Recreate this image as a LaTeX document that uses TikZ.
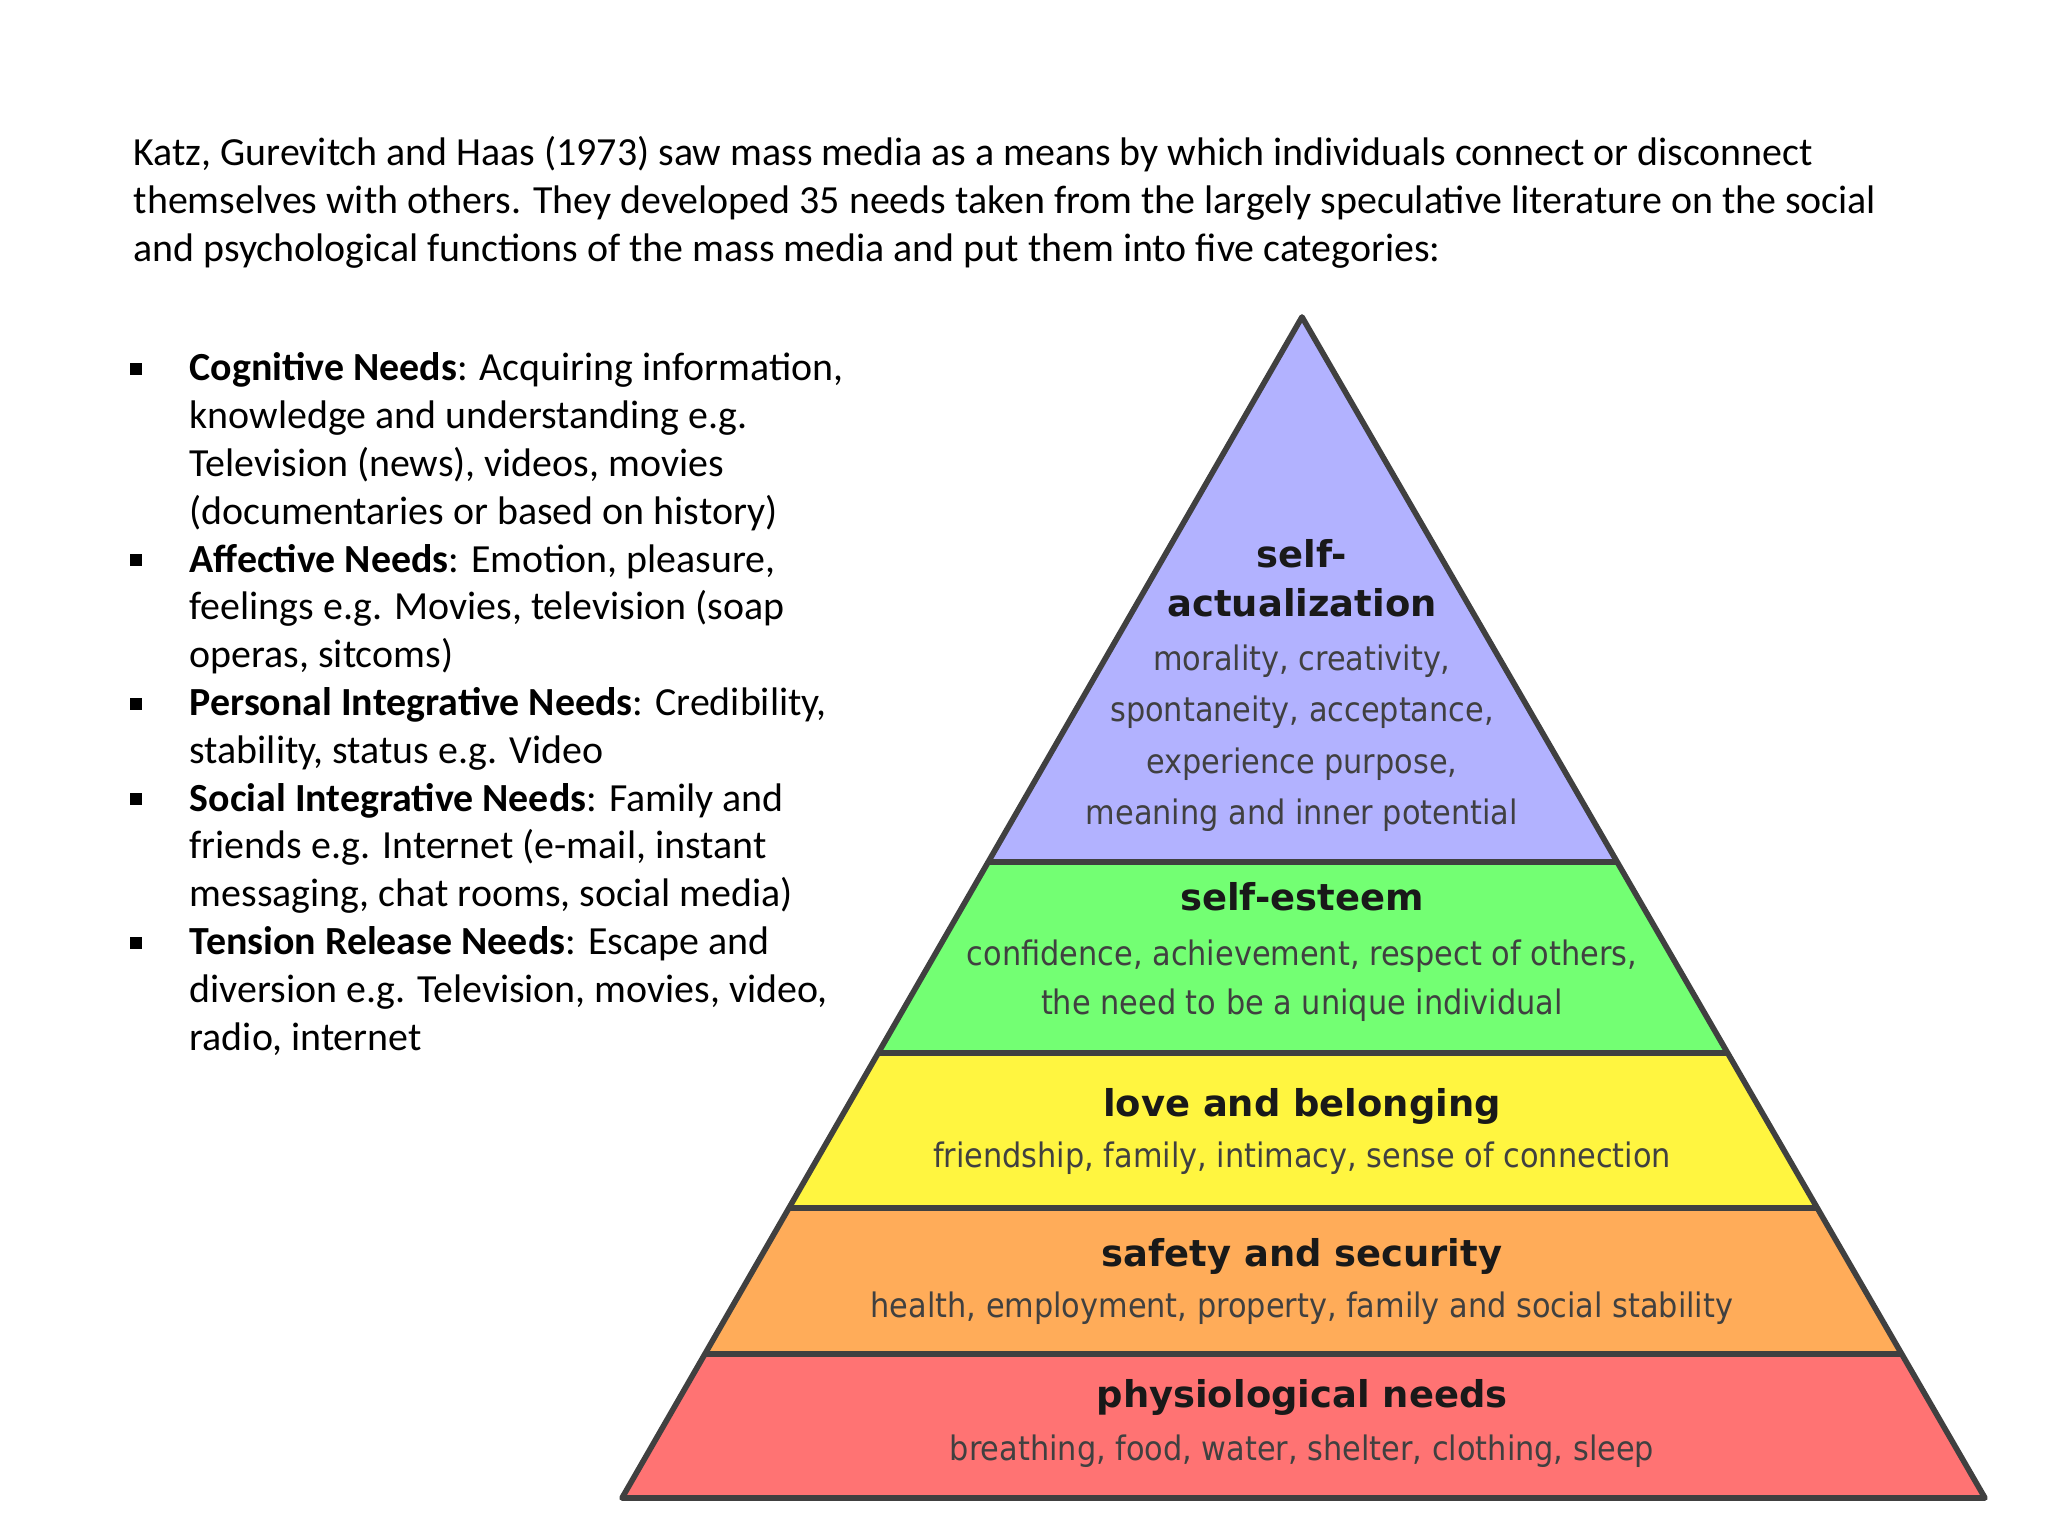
\documentclass[tikz,border=0pt]{standalone}
\usepackage{fontspec}
\setmainfont{Carlito}
\newfontfamily\pyrb{DejaVu Sans}[Scale=1]
\newfontfamily\pyrd{DejaVu Sans Condensed}
\begin{document}
\begin{tikzpicture}[
  body/.style={anchor=base west,inner sep=0pt,font=\fontsize{11.35}{14}\selectfont},
  lab/.style={anchor=base,inner sep=0pt,font=\pyrb\bfseries\fontsize{10.5}{12}\selectfont,text=black!90},
  desc/.style={anchor=base,inner sep=0pt,font=\pyrd\fontsize{9.6}{11}\selectfont,text=black!75},
  band/.style={draw=black!75,line width=1.6pt,line join=round},
  bul/.style={fill=black,minimum size=0.12cm,inner sep=0pt}]
\useasboundingbox (0,0) rectangle (20.48,-15.36);
\fill[white] (0,0) rectangle (20.48,-15.36);
% paragraph
\node[body] (p1) at (1.33,-1.66) {Katz, Gurevitch and Haas (1973) saw mass media as a means by which individuals connect or disconnect};
\node[body] (p2) at (1.33,-2.14) {themselves with others. They developed 35 needs taken from the largely speculative literature on the social};
\node[body] (p3) at (1.33,-2.62) {and psychological functions of the mass media and put them into five categories:};
% bullets
\foreach \t [count=\i] in {
 {\textbf{Cognitive Needs}: Acquiring information,},
 {knowledge and understanding e.g.},
 {Television (news), videos, movies},
 {(documentaries or based on history)},
 {\textbf{Affective Needs}: Emotion, pleasure,},
 {feelings e.g. Movies, television (soap},
 {operas, sitcoms)},
 {\textbf{Personal Integrative Needs}: Credibility,},
 {stability, status e.g. Video},
 {\textbf{Social Integrative Needs}: Family and},
 {friends e.g. Internet (e-mail, instant},
 {messaging, chat rooms, social media)},
 {\textbf{Tension Release Needs}: Escape and},
 {diversion e.g. Television, movies, video,},
 {radio, internet}}
 {\node[body] (l\i) at (1.89,{-3.81-(\i-1)*0.478}) {\t};}
\foreach \i in {1,5,8,10,13}{\node[bul] (b\i) at (1.36,{-3.81-(\i-1)*0.478+0.12}) {};}
% pyramid
\coordinate (A) at (13.02,-3.17);
\coordinate (L) at (6.22,-14.98);
\coordinate (R) at (19.85,-14.98);
\def\lx#1{13.02-6.80*(#1-3.17)/11.81}
\def\rx#1{13.02+6.83*(#1-3.17)/11.81}
\fill[red!55!white] ({\lx{13.54}},-13.54) -- ({\rx{13.54}},-13.54) -- (R) -- (L) -- cycle;
\fill[orange!65!white] ({\lx{12.08}},-12.08) -- ({\rx{12.08}},-12.08) -- ({\rx{13.54}},-13.54) -- ({\lx{13.54}},-13.54) -- cycle;
\fill[yellow!75!white] ({\lx{10.53}},-10.53) -- ({\rx{10.53}},-10.53) -- ({\rx{12.08}},-12.08) -- ({\lx{12.08}},-12.08) -- cycle;
\fill[green!55!white] ({\lx{8.62}},-8.62) -- ({\rx{8.62}},-8.62) -- ({\rx{10.53}},-10.53) -- ({\lx{10.53}},-10.53) -- cycle;
\fill[blue!30!white] (A) -- ({\rx{8.62}},-8.62) -- ({\lx{8.62}},-8.62) -- cycle;
\foreach \y in {8.62,10.53,12.08,13.54}{\draw[band] ({\lx{\y}},-\y) -- ({\rx{\y}},-\y);}
\draw[band] (A) -- (R) -- (L) -- cycle;
% labels
\node[lab] (s1) at (13.02,-5.68) {self-};
\node[lab] (s2) at (13.02,-6.17) {actualization};
\node[desc] (s3) at (13.02,-6.71) {morality, creativity,};
\node[desc] (s4) at (13.02,-7.22) {spontaneity, acceptance,};
\node[desc] (s5) at (13.02,-7.73) {experience purpose,};
\node[desc] (s6) at (13.02,-8.24) {meaning and inner potential};
\node[lab] (e1) at (13.02,-9.11) {self-esteem};
\node[desc] (e2) at (13.02,-9.65) {confidence, achievement, respect of others,};
\node[desc] (e3) at (13.02,-10.14) {the need to be a unique individual};
\node[lab] (o1) at (13.02,-11.16) {love and belonging};
\node[desc] (o2) at (13.02,-11.67) {friendship, family, intimacy, sense of connection};
\node[lab] (f1) at (13.02,-12.66) {safety and security};
\node[desc] (f2) at (13.02,-13.17) {health, employment, property, family and social stability};
\node[lab] (h1) at (13.02,-14.07) {physiological needs};
\node[desc] (h2) at (13.02,-14.60) {breathing, food, water, shelter, clothing, sleep};
\end{tikzpicture}
\end{document}
